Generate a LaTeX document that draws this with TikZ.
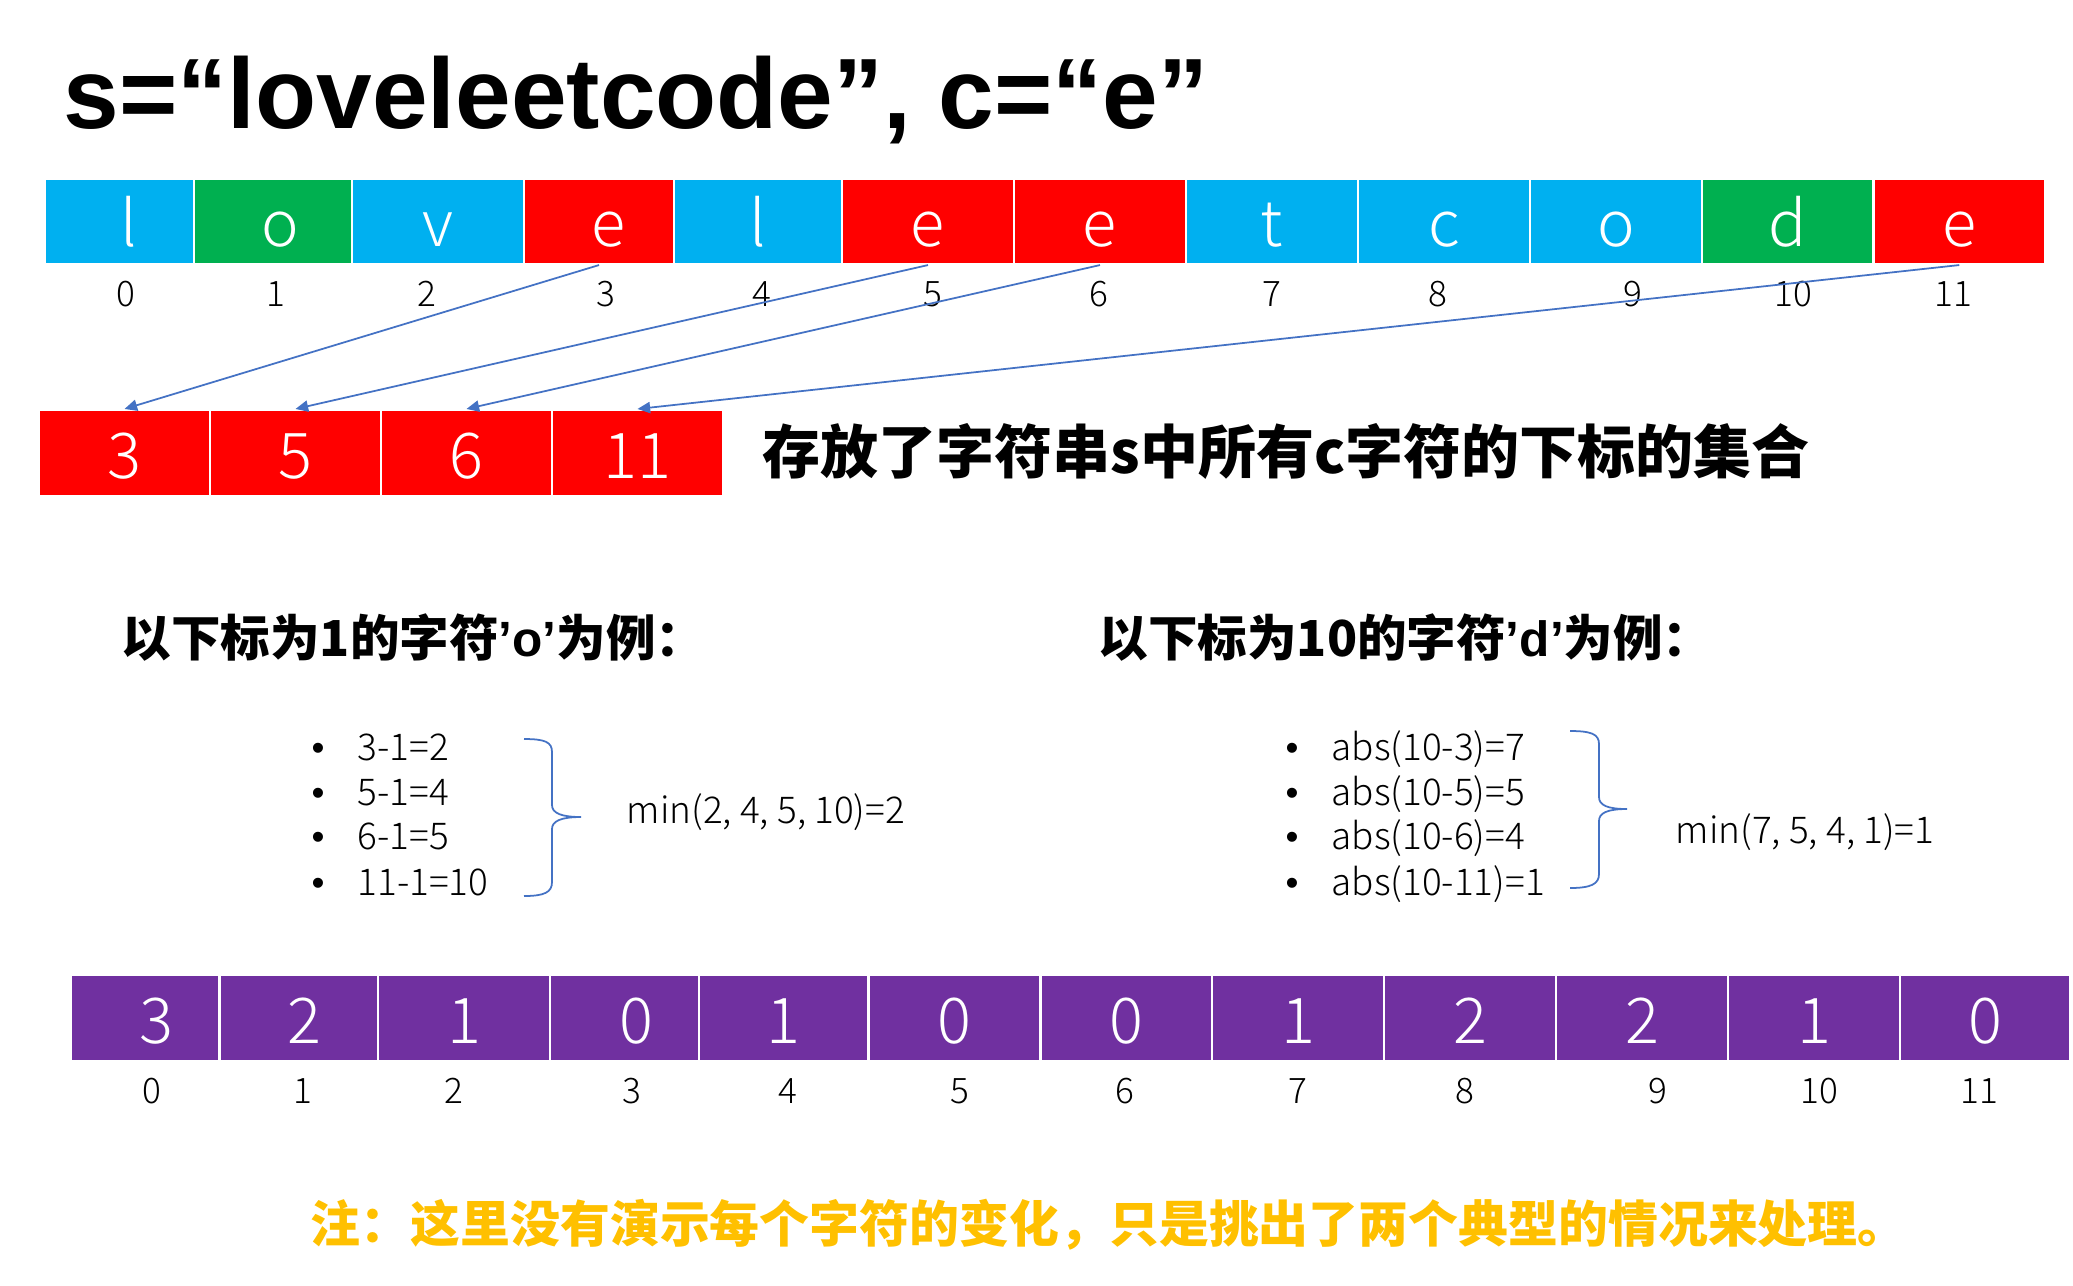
\documentclass[tikz,border=0pt]{standalone}
\usepackage{fontspec}
\setmainfont{Noto Sans CJK SC}
\newfontfamily\titlefont{Liberation Sans}
\newfontfamily\thinfont{Noto Sans CJK SC Light}
\usetikzlibrary{arrows.meta}

\definecolor{sky}{HTML}{00B0F0}
\definecolor{leaf}{HTML}{00B050}
\definecolor{hot}{HTML}{FF0000}
\definecolor{plum}{HTML}{7030A0}
\definecolor{arrowblue}{HTML}{4472C4}
\definecolor{gold}{HTML}{FFC000}

\newcommand{\bulletmark}{\makebox[4.6mm][l]{\titlefont •}}
\newcommand{\nudge}[1]{\hspace*{#1}}

\begin{document}
\begin{tikzpicture}[x=0.1mm,y=-0.1mm]
            \useasboundingbox (0,0) rectangle (2073,1285);

            \tikzstyle{cell}=[rectangle,draw=white,line width=0.6pt,inner sep=0pt,minimum height=8.5mm,text=white,text height=5mm,text depth=0mm,font=\thinfont\fontsize{18}{18}\selectfont]
            \tikzstyle{S}=[cell,fill=sky]    % other letters
            \tikzstyle{G}=[cell,fill=leaf]   % the two examples
            \tikzstyle{R}=[cell,fill=hot]    % letter c
            \tikzstyle{P}=[cell,fill=plum]   % answer

            \tikzstyle{index}=[anchor=base,inner sep=0pt,font=\thinfont\fontsize{10}{10}\selectfont]
            \tikzstyle{head}=[anchor=base west,inner sep=0pt,font=\bfseries\fontsize{14.1}{15}\selectfont]
            \tikzstyle{item}=[anchor=base west,inner sep=0pt,font=\thinfont\fontsize{10.5}{11}\selectfont]
            \tikzstyle{every edge}=[draw,arrowblue,line width=0.5pt]
            \tikzstyle{brace}=[draw,arrowblue,line width=0.5pt]

            \node[anchor=base west,inner sep=0pt,font=\titlefont\bfseries\fontsize{28.45}{30}\selectfont] (title) at (63,128) {s=“loveleetcode”, c=“e”};

            % s
            \node[S,minimum width=14.9mm]  (t0)  at (119.5,221.5)  {\nudge{1.9mm}l};
            \node[G,minimum width=15.8mm]  (t1)  at (273,221.5)    {\nudge{1.4mm}o};
            \node[S,minimum width=17.2mm]  (t2)  at (438,221.5)    {v};
            \node[R,minimum width=15.0mm]  (t3)  at (599,221.5)    {\nudge{2mm}e};
            \node[S,minimum width=16.8mm]  (t4)  at (758,221.5)    {l};
            \node[R,minimum width=17.2mm]  (t5)  at (928,221.5)    {e};
            \node[R,minimum width=17.2mm]  (t6)  at (1100,221.5)   {e};
            \node[S,minimum width=17.2mm]  (t7)  at (1272,221.5)   {t};
            \node[S,minimum width=17.2mm]  (t8)  at (1444,221.5)   {c};
            \node[S,minimum width=17.2mm]  (t9)  at (1616,221.5)   {o};
            \node[G,minimum width=17.15mm] (t10) at (1787.75,221.5) {d};
            \node[R,minimum width=17.15mm] (t11) at (1959.25,221.5) {e};

            \node[index] (i0)  at (126,306)  {0};
            \node[index] (i1)  at (276,306)  {1};
            \node[index] (i2)  at (427,306)  {2};
            \node[index] (i3)  at (606,306)  {3};
            \node[index] (i4)  at (762,306)  {4};
            \node[index] (i5)  at (933,306)  {5};
            \node[index] (i6)  at (1099,306) {6};
            \node[index] (i7)  at (1272,306) {7};
            \node[index] (i8)  at (1438,306) {8};
            \node[index] (i9)  at (1633,306) {9};
            \node[index] (i10) at (1793,306) {10};
            \node[index] (i11) at (1953,306) {11};

            % positions of c
            \node[R,minimum width=17.1mm,minimum height=8.6mm] (p0) at (124.5,453) {3};
            \node[R,minimum width=17.1mm,minimum height=8.6mm] (p1) at (295.5,453) {5};
            \node[R,minimum width=17.1mm,minimum height=8.6mm] (p2) at (466.5,453) {6};
            \node[R,minimum width=17.1mm,minimum height=8.6mm] (p3) at (637.5,453) {11};
            \node[anchor=base west,inner sep=0pt,font=\bfseries\fontsize{16.5}{17}\selectfont] (note) at (762,473) {存放了字符串s中所有c字符的下标的集合};

            \path[-{Triangle[length=3.6pt,width=3.2pt]}] (t3.south)  edge (p0.north);
            \path[-{Triangle[length=3.6pt,width=3.2pt]}] (t5.south)  edge (p1.north);
            \path[-{Triangle[length=3.6pt,width=3.2pt]}] (t6.south)  edge (p2.north);
            \path[-{Triangle[length=3.6pt,width=3.2pt]}] (t11.south) edge (p3.north);

            % example 'o'
            \node[head] (h1) at (121,656) {以下标为1的字符{\titlefont ’o’}为例：};
            \node[item] (a1) at (311,760) {\bulletmark 3-1=2};
            \node[item] (a2) at (311,805) {\bulletmark 5-1=4};
            \node[item] (a3) at (311,849) {\bulletmark 6-1=5};
            \node[item] (a4) at (311,895) {\bulletmark 11-1=10};
            \coordinate (ba) at (524,739);
            \coordinate (bb) at (524,896);
            \draw[brace] (ba) .. controls +(21,0) and +(0,-10) .. (552,752) -- (552,805)
                .. controls +(0,8) and +(-20,0) .. (581,817) .. controls +(-20,0) and +(0,-8) .. (552,829)
                -- (552,882) .. controls +(0,10) and +(21,0) .. (bb);
            \node[item] (m1) at (626,823) {min(2, 4, 5, 10)=2};

            % example 'd'
            \node[head] (h2) at (1098,656) {以下标为10的字符{\titlefont ’d’}为例：};
            \node[item] (c1) at (1285,760) {\bulletmark abs(10-3)=7};
            \node[item] (c2) at (1285,805) {\bulletmark abs(10-5)=5};
            \node[item] (c3) at (1285,849) {\bulletmark abs(10-6)=4};
            \node[item] (c4) at (1285,895) {\bulletmark abs(10-11)=1};
            \coordinate (bc) at (1570,731);
            \coordinate (bd) at (1570,888);
            \draw[brace] (bc) .. controls +(21,0) and +(0,-10) .. (1599,744) -- (1599,797)
                .. controls +(0,8) and +(-20,0) .. (1627,809) .. controls +(-20,0) and +(0,-8) .. (1599,821)
                -- (1599,874) .. controls +(0,10) and +(21,0) .. (bd);
            \node[item] (m2) at (1675,843) {min(7, 5, 4, 1)=1};

            % answer
            \node[P,minimum width=14.85mm,minimum height=8.6mm] (d0)  at (145.25,1018) {\nudge{2.2mm}3};
            \node[P,minimum width=15.85mm,minimum height=8.6mm] (d1)  at (298.75,1018) {\nudge{1.2mm}2};
            \node[P,minimum width=17.2mm,minimum height=8.6mm]  (d2)  at (464,1018)    {1};
            \node[P,minimum width=14.9mm,minimum height=8.6mm]  (d3)  at (624.5,1018)  {\nudge{2.3mm}0};
            \node[P,minimum width=16.96mm,minimum height=8.6mm] (d4)  at (783.8,1018)  {1};
            \node[P,minimum width=17.2mm,minimum height=8.6mm]  (d5)  at (954.5,1018)  {0};
            \node[P,minimum width=17.15mm,minimum height=8.6mm] (d6)  at (1126.25,1018) {0};
            \node[P,minimum width=17.2mm,minimum height=8.6mm]  (d7)  at (1298,1018)   {1};
            \node[P,minimum width=17.2mm,minimum height=8.6mm]  (d8)  at (1470,1018)   {2};
            \node[P,minimum width=17.2mm,minimum height=8.6mm]  (d9)  at (1642,1018)   {2};
            \node[P,minimum width=17.2mm,minimum height=8.6mm]  (d10) at (1814,1018)   {1};
            \node[P,minimum width=17.0mm,minimum height=8.6mm]  (d11) at (1985,1018)   {0};

            \node[index] (j0)  at (152,1103)  {0};
            \node[index] (j1)  at (303,1103)  {1};
            \node[index] (j2)  at (454,1103)  {2};
            \node[index] (j3)  at (632,1103)  {3};
            \node[index] (j4)  at (788,1103)  {4};
            \node[index] (j5)  at (960,1103)  {5};
            \node[index] (j6)  at (1125,1103) {6};
            \node[index] (j7)  at (1298,1103) {7};
            \node[index] (j8)  at (1465,1103) {8};
            \node[index] (j9)  at (1658,1103) {9};
            \node[index] (j10) at (1819,1103) {10};
            \node[index] (j11) at (1979,1103) {11};

            \node[anchor=base west,inner sep=0pt,text=gold,font=\bfseries\fontsize{14.2}{15}\selectfont] (remark) at (310,1242) {注：这里没有演示每个字符的变化，只是挑出了两个典型的情况来处理。};
\end{tikzpicture}
\end{document}
